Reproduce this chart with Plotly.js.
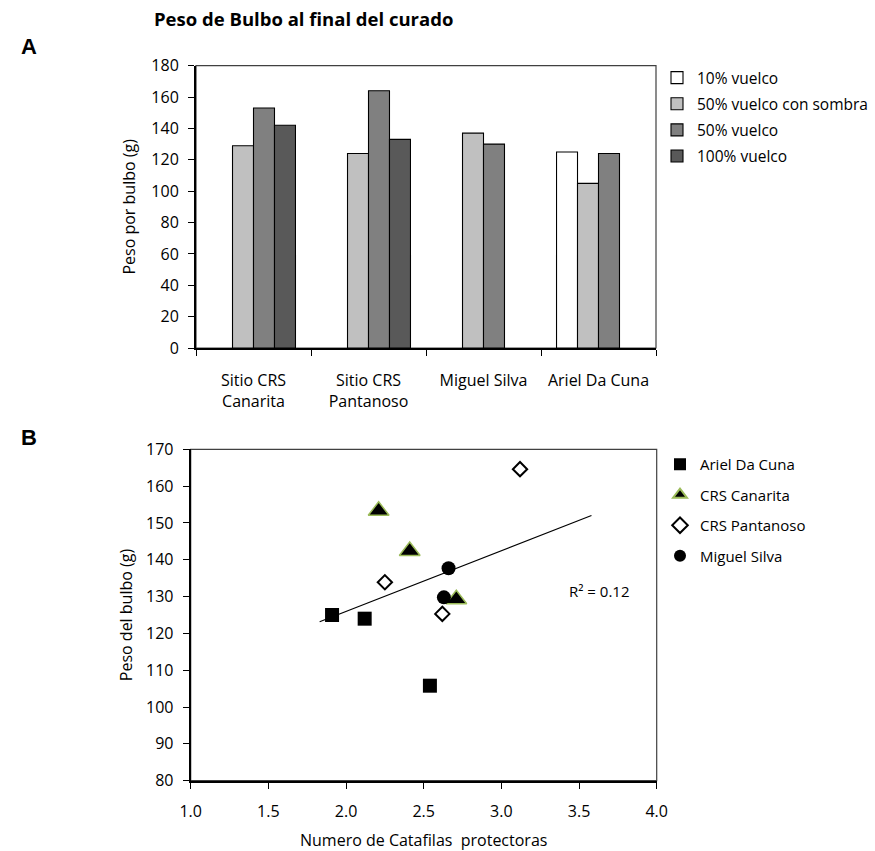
<!DOCTYPE html>
<html>
<head>
<meta charset="utf-8">
<script src="https://cdn.plot.ly/plotly-3.0.1.min.js"></script>
<style>html,body{margin:0;padding:0;background:#fff;}#chart{width:875px;height:851px;}</style>
</head>
<body>
<div id="chart"></div>
<script>
// ---- Panel A data ----
const categories = ["Sitio CRS<br>Canarita", "Sitio CRS<br>Pantanoso", "Miguel Silva", "Ariel Da Cuna"];
const seriesNames = ["10% vuelco", "50% vuelco con sombra", "50% vuelco", "100% vuelco"];
const vuelco10 = [null, null, null, 125];
const vuelco50Sombra = [129, 124, 137, 105];
const vuelco50 = [153, 164, 130, 124];
const vuelco100 = [142, 133, null, null];
const yTicksA = [0, 20, 40, 60, 80, 100, 120, 140, 160, 180];

// ---- Panel B data ----
const arielX = [1.91, 2.12, 2.54];
const arielY = [125, 124, 105.8];
const canaritaX = [2.21, 2.41, 2.71];
const canaritaY = [153.3, 142.4, 129.3];
const pantanosoX = [2.25, 3.12, 2.62];
const pantanosoY = [133.9, 164.6, 125.3];
const miguelX = [2.66, 2.63];
const miguelY = [137.7, 129.8];
const trendExtentX = [1.83, 3.58];
const xTicksB = [1.0, 1.5, 2.0, 2.5, 3.0, 3.5, 4.0];
const yTicksB = [80, 90, 100, 110, 120, 130, 140, 150, 160, 170];

const FONT = "Open Sans, Lato, sans-serif";
const barColors = ["#FFFFFF", "#C0C0C0", "#808080", "#595959"];
const barValues = [vuelco10, vuelco50Sombra, vuelco50, vuelco100];

const traces = [];
barValues.forEach((vals, i) => {
  traces.push({
    type: "bar", x: categories, y: vals, name: seriesNames[i],
    xaxis: "x", yaxis: "y", legend: "legend", legendgroup: "a" + i,
    marker: {color: barColors[i], line: {color: "#000", width: 1.1}},
    hoverinfo: "y"
  });
});

// regression over all scatter points
const allX = [].concat(arielX, canaritaX, pantanosoX, miguelX);
const allY = [].concat(arielY, canaritaY, pantanosoY, miguelY);
const n = allX.length;
const mx = allX.reduce((a, b) => a + b, 0) / n;
const my = allY.reduce((a, b) => a + b, 0) / n;
let sxy = 0, sxx = 0, syy = 0;
for (let i = 0; i < n; i++) { sxy += (allX[i] - mx) * (allY[i] - my); sxx += (allX[i] - mx) ** 2; syy += (allY[i] - my) ** 2; }
const slope = sxy / sxx, intercept = my - slope * mx;
const r2 = (sxy * sxy) / (sxx * syy);

traces.push({type: "scatter", mode: "lines", x: trendExtentX, y: trendExtentX.map(v => intercept + slope * v),
  xaxis: "x2", yaxis: "y2", line: {color: "#000", width: 1.2}, showlegend: false, hoverinfo: "skip"});

traces.push({type: "scatter", mode: "markers", name: "Ariel Da Cuna", x: arielX, y: arielY, xaxis: "x2", yaxis: "y2",
  legend: "legend2", legendgroup: "b0", marker: {symbol: "square", size: 14, color: "#000"}});
traces.push({type: "scatter", mode: "markers", name: "CRS Canarita", x: canaritaX, y: canaritaY, xaxis: "x2", yaxis: "y2",
  legend: "legend2", legendgroup: "b1", marker: {symbol: "triangle-up", size: 18, color: "#000", line: {color: "#9BBB59", width: 1.5}}});
traces.push({type: "scatter", mode: "markers", name: "CRS Pantanoso", x: pantanosoX, y: pantanosoY, xaxis: "x2", yaxis: "y2",
  legend: "legend2", legendgroup: "b2", marker: {symbol: "diamond", size: 11, color: "#fff", line: {color: "#000", width: 2}}});
traces.push({type: "scatter", mode: "markers", name: "Miguel Silva", x: miguelX, y: miguelY, xaxis: "x2", yaxis: "y2",
  legend: "legend2", legendgroup: "b3", marker: {symbol: "circle", size: 14, color: "#000"}});

const W = 875, H = 851;
const px = v => v / W, py = v => 1 - v / H;

const layout = {
  width: W, height: H,
  margin: {l: 0, r: 0, t: 0, b: 0},
  paper_bgcolor: "#fff", plot_bgcolor: "#fff",
  font: {family: FONT, size: 16, color: "#000"},
  title: {text: "<b>Peso de Bulbo al final del curado</b>", x: px(154), xanchor: "left", y: py(20), yanchor: "middle",
    font: {family: FONT, size: 18.5, color: "#000"}},
  barmode: "group", bargap: 0.27, bargroupgap: 0,
  xaxis: {domain: [px(196), px(656)], anchor: "y", type: "category", tickson: "boundaries",
    ticks: "outside", ticklen: 6, tickcolor: "#000", showline: true, linecolor: "#000", linewidth: 2,
    showgrid: false, zeroline: false, ticklabelstandoff: 17, tickfont: {size: 16}, fixedrange: true},
  yaxis: {domain: [py(348), py(65.7)], anchor: "x", range: [0, 180], tickvals: yTicksA,
    ticks: "outside", ticklen: 6, tickcolor: "#000", showline: true, linecolor: "#000", linewidth: 2,
    showgrid: false, zeroline: false, ticklabelstandoff: 6, tickfont: {size: 16},
    title: {text: "Peso por bulbo (g)", font: {size: 16}, standoff: 12}},
  xaxis2: {domain: [px(190.7), px(656.7)], anchor: "y2", range: [1, 4], tickvals: xTicksB, tickformat: ".1f",
    ticks: "outside", ticklen: 6, tickcolor: "#000", showline: true, linecolor: "#000", linewidth: 2,
    showgrid: false, zeroline: false, ticklabelstandoff: 9, tickfont: {size: 16},
    title: {text: "Numero de Catafilas\u00a0 protectoras", font: {size: 16}, standoff: 18}},
  yaxis2: {domain: [py(780.7), py(449.3)], anchor: "x2", range: [80, 170], tickvals: yTicksB,
    ticks: "outside", ticklen: 6, tickcolor: "#000", showline: true, linecolor: "#000", linewidth: 2,
    showgrid: false, zeroline: false, ticklabelstandoff: 6, tickfont: {size: 16},
    title: {text: "Peso del bulbo (g)", font: {size: 16}, standoff: 9}},
  legend: {x: px(657), y: py(61), xanchor: "left", yanchor: "top", traceorder: "grouped", tracegroupgap: 3,
    font: {size: 15.5}, bgcolor: "rgba(0,0,0,0)"},
  legend2: {x: px(660), y: py(448), xanchor: "left", yanchor: "top", traceorder: "grouped", tracegroupgap: 8,
    itemsizing: "constant", font: {size: 15}, bgcolor: "rgba(0,0,0,0)"},
  shapes: [
    {type: "rect", xref: "x domain", yref: "y domain", x0: 0, x1: 1, y0: 0, y1: 1, line: {color: "#404040", width: 1.2}, layer: "below"},
    {type: "rect", xref: "x2 domain", yref: "y2 domain", x0: 0, x1: 1, y0: 0, y1: 1, line: {color: "#404040", width: 1.2}, layer: "below"}
  ],
  annotations: [
    {text: "<b>A</b>", xref: "paper", yref: "paper", x: px(19), y: py(47), xanchor: "left", yanchor: "middle",
      showarrow: false, font: {family: "Liberation Sans, Arial, sans-serif", size: 22, color: "#000"}},
    {text: "<b>B</b>", xref: "paper", yref: "paper", x: px(19), y: py(437), xanchor: "left", yanchor: "middle",
      showarrow: false, font: {family: "Liberation Sans, Arial, sans-serif", size: 22, color: "#000"}},
    {text: "R\u00b2 = " + r2.toFixed(2), xref: "x2", yref: "y2", x: 3.63, y: 131.6, xanchor: "center", yanchor: "middle",
      showarrow: false, font: {size: 15}}
  ]
};

Plotly.newPlot("chart", traces, layout, {displayModeBar: false, staticPlot: true});
</script>
</body>
</html>
